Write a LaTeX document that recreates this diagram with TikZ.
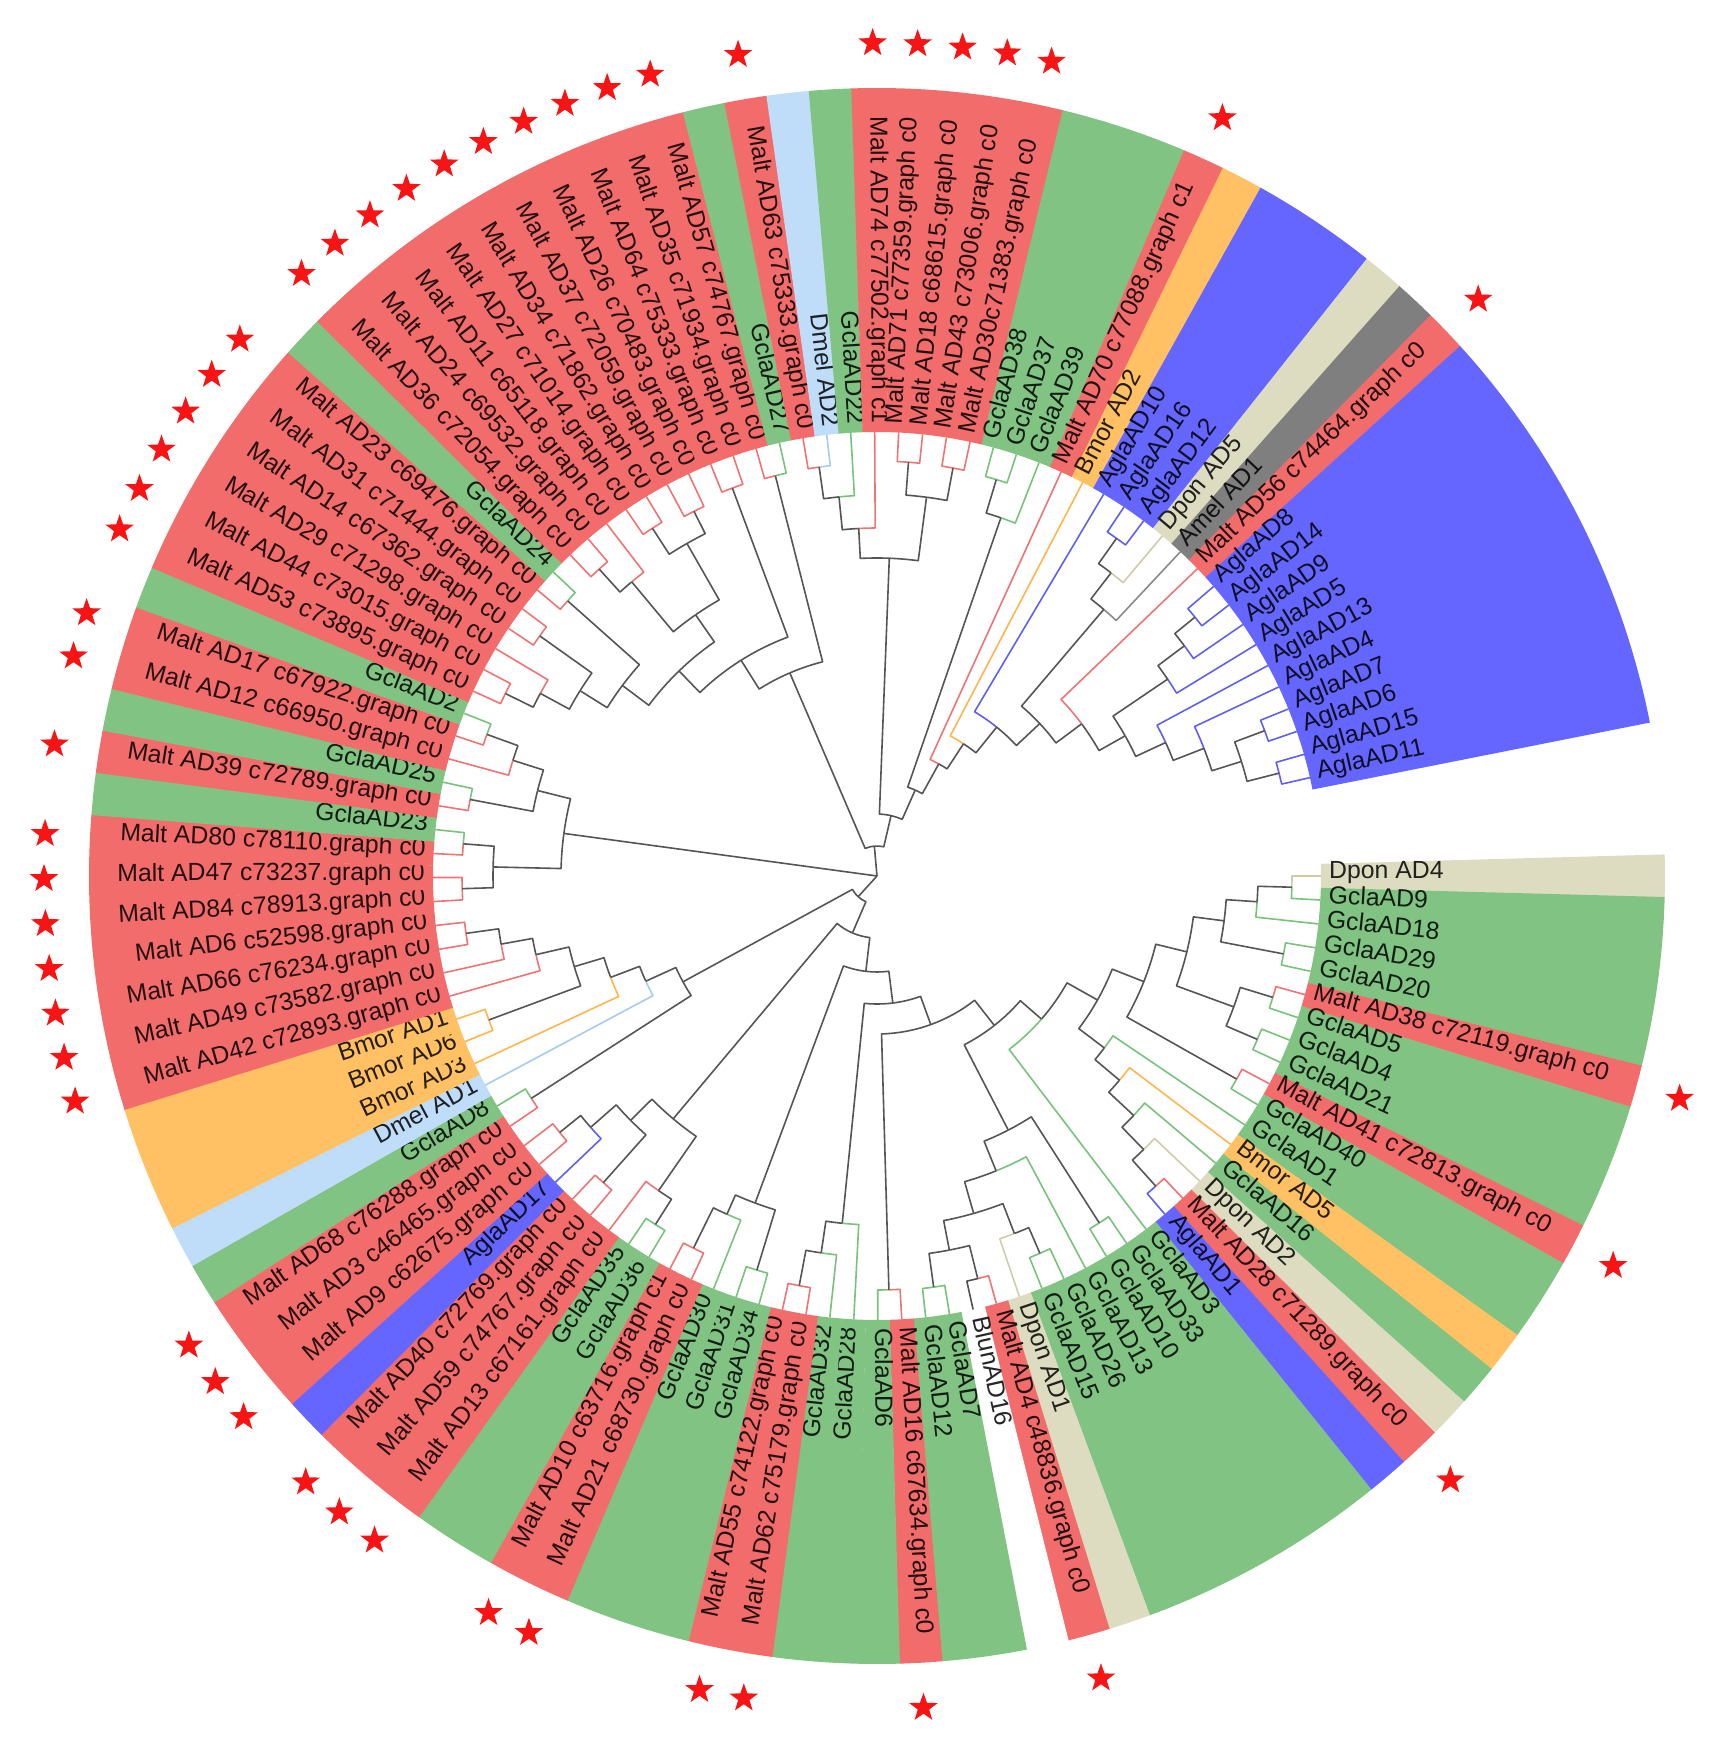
\documentclass[tikz,border=0pt]{standalone}
\usepackage{fontspec}
\setmainfont{Liberation Sans}
\usetikzlibrary{shapes.geometric}
\definecolor{gM}{HTML}{F36C6C}
\definecolor{gG}{HTML}{80C383}
\definecolor{gA}{HTML}{6565FF}
\definecolor{gB}{HTML}{FFC164}
\definecolor{gP}{HTML}{DDDCC0}
\definecolor{gD}{HTML}{BFDDF8}
\definecolor{gE}{HTML}{7F7F7F}
\definecolor{gL}{HTML}{FFFFFF}
\definecolor{lngM}{HTML}{EE7474}
\definecolor{lngG}{HTML}{78C27B}
\definecolor{lngA}{HTML}{5F5FF2}
\definecolor{lngB}{HTML}{FFB54D}
\definecolor{lngP}{HTML}{CFCCAA}
\definecolor{lngD}{HTML}{A6CBEE}
\definecolor{lngE}{HTML}{8A8A8A}
\definecolor{lngL}{HTML}{505050}
\definecolor{lnint}{HTML}{555555}
\definecolor{starred}{HTML}{F81414}
\tikzset{
  branch/.style={line width=1.6pt,line join=round},
  lbl/.style={inner sep=0pt,font=\fontsize{24.8}{30}\selectfont,text height=0.72em,text depth=0.2em},
  starmark/.style={star,star points=5,star point ratio=2.5,minimum size=30pt,inner sep=0pt,fill=starred,draw=none}
}
\def\dstep{3.1}
\def\Rt{444}
\def\Ro{788}
\def\Rs{833}
\def\gMname{gM}
\newif\iflfleft
\def\lflefffalse{\global\let\iflfleft\iffalse}
\def\lfleftttrue{\global\let\iflfleft\iftrue}
\newcommand\Lf[3]{%
  \pgfmathsetmacro\lfA{-(#1-1)*\dstep}%
  \pgfmathsetmacro\lfS{\lfA-1.57}%
  \pgfmathsetmacro\lfE{\lfA+1.57}%
  \pgfmathsetmacro\lfR{\Rt+8}%
  \expandafter\xdef\csname ta@l#1\endcsname{\lfA}%
  \expandafter\xdef\csname tr@l#1\endcsname{\Rt}%
  \expandafter\xdef\csname tc@l#1\endcsname{ln#2}%
  \coordinate (l#1) at (\lfA:\Rt pt);
  \fill[#2] (\lfS:\Rt pt) arc[start angle=\lfS,end angle=\lfE,radius=\Rt pt] -- (\lfE:\Ro pt) arc[start angle=\lfE,end angle=\lfS,radius=\Ro pt] -- cycle;
  \lflefffalse
  \ifdim\lfA pt<-90pt \ifdim\lfA pt>-270pt \lfleftttrue\fi\fi
  \iflfleft
    \node[lbl,text=#2!15!black,rotate=\lfA+180,anchor=east] (t#1) at (\lfA:\lfR pt) {#3};
  \else
    \node[lbl,text=#2!15!black,rotate=\lfA,anchor=west] (t#1) at (\lfA:\lfR pt) {#3};
  \fi
  \def\lfG{#2}%
  \ifx\lfG\gMname \node[starmark] (s#1) at (\lfA:\Rs pt) {}; \fi
}
\newcommand\Br[2]{%
  \edef\brPA{\csname ta@#1\endcsname}%
  \edef\brPR{\csname tr@#1\endcsname}%
  \edef\brCA{\csname ta@#2\endcsname}%
  \edef\brCC{\csname tc@#2\endcsname}%
  \draw[branch,draw=\brCC] (#1) arc[start angle=\brPA,end angle=\brCA,radius=\brPR pt] -- (#2);
}
\newcommand\Nd[4]{%
  \pgfmathsetmacro\ndA{(\csname ta@#3\endcsname+\csname ta@#4\endcsname)/2}%
  \expandafter\xdef\csname ta@#1\endcsname{\ndA}%
  \expandafter\xdef\csname tr@#1\endcsname{#2}%
  \expandafter\xdef\csname tc@#1\endcsname{lnint}%
  \coordinate (#1) at (\ndA:#2pt);
  \Br{#1}{#3}\Br{#1}{#4}%
}
\begin{document}
\begin{tikzpicture}
\useasboundingbox (-877pt,-874pt) rectangle (838pt,876pt);
\Lf{1}{gP}{Dpon AD4}
\Lf{2}{gG}{GclaAD9}
\Lf{3}{gG}{GclaAD18}
\Lf{4}{gG}{GclaAD29}
\Lf{5}{gG}{GclaAD20}
\Lf{6}{gM}{Malt AD38 c72119.graph c0}
\Lf{7}{gG}{GclaAD5}
\Lf{8}{gG}{GclaAD4}
\Lf{9}{gG}{GclaAD21}
\Lf{10}{gM}{Malt AD41 c72813.graph c0}
\Lf{11}{gG}{GclaAD40}
\Lf{12}{gG}{GclaAD1}
\Lf{13}{gB}{Bmor AD5}
\Lf{14}{gG}{GclaAD16}
\Lf{15}{gP}{Dpon AD2}
\Lf{16}{gM}{Malt AD28 c71289.graph c0}
\Lf{17}{gA}{AglaAD1}
\Lf{18}{gG}{GclaAD3}
\Lf{19}{gG}{GclaAD33}
\Lf{20}{gG}{GclaAD10}
\Lf{21}{gG}{GclaAD13}
\Lf{22}{gG}{GclaAD26}
\Lf{23}{gG}{GclaAD15}
\Lf{24}{gP}{Dpon AD1}
\Lf{25}{gM}{Malt AD4 c48836.graph c0}
\Lf{26}{gL}{BlunAD16}
\Lf{27}{gG}{GclaAD7}
\Lf{28}{gG}{GclaAD12}
\Lf{29}{gM}{Malt AD16 c67634.graph c0}
\Lf{30}{gG}{GclaAD6}
\Lf{31}{gG}{GclaAD28}
\Lf{32}{gG}{GclaAD32}
\Lf{33}{gM}{Malt AD62 c75179.graph c0}
\Lf{34}{gM}{Malt AD55 c74122.graph c0}
\Lf{35}{gG}{GclaAD34}
\Lf{36}{gG}{GclaAD31}
\Lf{37}{gG}{GclaAD30}
\Lf{38}{gM}{Malt AD21 c68730.graph c0}
\Lf{39}{gM}{Malt AD10 c63716.graph c1}
\Lf{40}{gG}{GclaAD36}
\Lf{41}{gG}{GclaAD35}
\Lf{42}{gM}{Malt AD13 c67161.graph c0}
\Lf{43}{gM}{Malt AD59 c74767.graph c0}
\Lf{44}{gM}{Malt AD40 c72769.graph c0}
\Lf{45}{gA}{AglaAD17}
\Lf{46}{gM}{Malt AD9 c62675.graph c0}
\Lf{47}{gM}{Malt AD3 c46465.graph c0}
\Lf{48}{gM}{Malt AD68 c76288.graph c0}
\Lf{49}{gG}{GclaAD8}
\Lf{50}{gD}{Dmel AD1}
\Lf{51}{gB}{Bmor AD3}
\Lf{52}{gB}{Bmor AD6}
\Lf{53}{gB}{Bmor AD1}
\Lf{54}{gM}{Malt AD42 c72893.graph c0}
\Lf{55}{gM}{Malt AD49 c73582.graph c0}
\Lf{56}{gM}{Malt AD66 c76234.graph c0}
\Lf{57}{gM}{Malt AD6 c52598.graph c0}
\Lf{58}{gM}{Malt AD84 c78913.graph c0}
\Lf{59}{gM}{Malt AD47 c73237.graph c0}
\Lf{60}{gM}{Malt AD80 c78110.graph c0}
\Lf{61}{gG}{GclaAD23}
\Lf{62}{gM}{Malt AD39 c72789.graph c0}
\Lf{63}{gG}{GclaAD25}
\Lf{64}{gM}{Malt AD12 c66950.graph c0}
\Lf{65}{gM}{Malt AD17 c67922.graph c0}
\Lf{66}{gG}{GclaAD2}
\Lf{67}{gM}{Malt AD53 c73895.graph c0}
\Lf{68}{gM}{Malt AD44 c73015.graph c0}
\Lf{69}{gM}{Malt AD29 c71298.graph c0}
\Lf{70}{gM}{Malt AD14 c67362.graph c0}
\Lf{71}{gM}{Malt AD31 c71444.graph c0}
\Lf{72}{gM}{Malt AD23 c69476.graph c0}
\Lf{73}{gG}{GclaAD24}
\Lf{74}{gM}{Malt AD36 c72054.graph c0}
\Lf{75}{gM}{Malt AD24 c69532.graph c0}
\Lf{76}{gM}{Malt AD11 c65118.graph c0}
\Lf{77}{gM}{Malt AD27 c71014.graph c0}
\Lf{78}{gM}{Malt AD34 c71862.graph c0}
\Lf{79}{gM}{Malt AD37 c72059.graph c0}
\Lf{80}{gM}{Malt AD26 c70483.graph c0}
\Lf{81}{gM}{Malt AD64 c75333.graph c0}
\Lf{82}{gM}{Malt AD35 c71934.graph c0}
\Lf{83}{gM}{Malt AD57 c74767.graph c0}
\Lf{84}{gG}{GclaAD27}
\Lf{85}{gM}{Malt AD63 c75333.graph c0}
\Lf{86}{gD}{Dmel AD2}
\Lf{87}{gG}{GclaAD22}
\Lf{88}{gM}{Malt AD74 c77502.graph c1}
\Lf{89}{gM}{Malt AD71 c77359.graph c0}
\Lf{90}{gM}{Malt AD18 c68615.graph c0}
\Lf{91}{gM}{Malt AD43 c73006.graph c0}
\Lf{92}{gM}{Malt AD30c71383.graph c0}
\Lf{93}{gG}{GclaAD38}
\Lf{94}{gG}{GclaAD37}
\Lf{95}{gG}{GclaAD39}
\Lf{96}{gM}{Malt AD70 c77088.graph c1}
\Lf{97}{gB}{Bmor AD2}
\Lf{98}{gA}{AglaAD10}
\Lf{99}{gA}{AglaAD16}
\Lf{100}{gA}{AglaAD12}
\Lf{101}{gP}{Dpon AD5}
\Lf{102}{gE}{Amel AD1}
\Lf{103}{gM}{Malt AD56 c74464.graph c0}
\Lf{104}{gA}{AglaAD8}
\Lf{105}{gA}{AglaAD14}
\Lf{106}{gA}{AglaAD9}
\Lf{107}{gA}{AglaAD5}
\Lf{108}{gA}{AglaAD13}
\Lf{109}{gA}{AglaAD4}
\Lf{110}{gA}{AglaAD7}
\Lf{111}{gA}{AglaAD6}
\Lf{112}{gA}{AglaAD15}
\Lf{113}{gA}{AglaAD11}
% ---- tree ----
\Nd{nc1}{415}{l1}{l2}
\Nd{nn1}{381}{nc1}{l3}
\Nd{nc2}{414}{l4}{l5}
\Nd{nn2}{350}{nn1}{nc2}
\Nd{nc3}{414}{l6}{l7}
\Nd{nc4}{414}{l8}{l9}
\Nd{nn3}{380}{nc3}{nc4}
\Nd{nR1}{319}{nn2}{nn3}
\Nd{nc5}{413}{l10}{l11}
\Nd{nR2}{287}{nR1}{nc5}
\Nd{nc6}{417}{l16}{l17}
\Nd{nn4}{382}{l15}{nc6}
\Nd{nn5}{351}{l14}{nn4}
\Nd{nn6}{317}{l13}{nn5}
\Nd{nRG}{285}{l12}{nn6}
\Nd{nR3}{253}{nR2}{nRG}
\Nd{nR4}{218}{nR3}{l18}
\Nd{nc7}{412}{l19}{l20}
\Nd{nc8}{411}{l22}{l23}
\Nd{nA2a}{383}{nc8}{l24}
\Nd{nc9}{415}{l25}{l26}
\Nd{nc10}{415}{l27}{l28}
\Nd{nA2b}{381}{nc9}{nc10}
\Nd{nA2}{351}{nA2a}{nA2b}
\Nd{nn7}{318}{l21}{nA2}
\Nd{nF4}{286}{nc7}{nn7}
\Nd{nF2}{190}{nR4}{nF4}
\Nd{nc11}{414}{l29}{l30}
\Nd{nF}{158}{nc11}{nF2}
\Nd{nc12}{417}{l33}{l34}
\Nd{nn8}{381}{nc12}{l32}
\Nd{nE1}{349}{nn8}{l31}
\Nd{nE}{128}{nE1}{nF}
\Nd{nc13}{412}{l35}{l36}
\Nd{nc14}{415}{l38}{l39}
\Nd{nD1a}{370}{l37}{nc14}
\Nd{nD1}{349}{nc13}{nD1a}
\Nd{nD}{96}{nD1}{nE}
\Nd{nc15}{413}{l40}{l41}
\Nd{nC1b}{383}{nc15}{l42}
\Nd{nc16}{411}{l43}{l44}
\Nd{nc17}{408}{l46}{l47}
\Nd{nn9}{381}{l45}{nc17}
\Nd{nC1a}{347}{nc16}{nn9}
\Nd{nC1}{317}{nC1a}{nC1b}
\Nd{nC}{62}{nC1}{nD}
\Nd{nc18}{411}{l48}{l49}
\Nd{nc19}{414}{l52}{l53}
\Nd{nc20}{415}{l56}{l57}
\Nd{nn10}{382}{nc20}{l55}
\Nd{nn11}{350}{nn10}{l54}
\Nd{nn12}{316}{nn11}{nc19}
\Nd{nn13}{285}{nn12}{l51}
\Nd{nn14}{254}{nn13}{l50}
\Nd{nB1p}{221}{nn14}{nc18}
\Nd{nB}{28}{nB1p}{nC}
\Nd{nc21}{415}{l58}{l59}
\Nd{nc22}{415}{l60}{l61}
\Nd{nLa}{384}{nc22}{nc21}
\Nd{nc23}{414}{l62}{l63}
\Nd{nc24}{415}{l65}{l66}
\Nd{nLb2}{382}{nc24}{l64}
\Nd{nLb}{350}{nLb2}{nc23}
\Nd{nL}{316}{nLb}{nLa}
\Nd{nc25}{414}{l67}{l68}
\Nd{nna}{383}{nc25}{l69}
\Nd{nc26}{414}{l70}{l71}
\Nd{nYb1}{350}{nna}{nc26}
\Nd{nc27}{414}{l72}{l73}
\Nd{nYb}{318}{nYb1}{nc27}
\Nd{nc28}{414}{l74}{l75}
\Nd{nnb}{383}{nc28}{l76}
\Nd{nc29}{414}{l77}{l78}
\Nd{nc30}{408}{l79}{l80}
\Nd{nnc}{383}{nc29}{nc30}
\Nd{nYa}{318}{nnb}{nnc}
\Nd{nY}{285}{nYa}{nYb}
\Nd{nc31}{414}{l81}{l82}
\Nd{nB1a}{255}{nc31}{nY}
\Nd{nc32}{413}{l83}{l84}
\Nd{nB1}{221}{nB1a}{nc32}
\Nd{nc33}{413}{l85}{l86}
\Nd{nn15}{381}{nc33}{l87}
\Nd{nL1}{348}{nn15}{l88}
\Nd{nc34}{415}{l89}{l90}
\Nd{nc35}{415}{l91}{l92}
\Nd{nn16}{382}{nc34}{nc35}
\Nd{nTop}{318}{nL1}{nn16}
\Nd{nc36}{414}{l93}{l94}
\Nd{nGC}{379}{nc36}{l95}
\Nd{nN1}{414}{l99}{l100}
\Nd{nN2}{383}{nN1}{l101}
\Nd{nN3}{350}{nN2}{l102}
\Nd{nG1c}{410}{l104}{l105}
\Nd{nG1b}{384}{nG1c}{l106}
\Nd{nG1}{351}{nG1b}{l107}
\Nd{nG5}{414}{l110}{l111}
\Nd{nG6}{415}{l112}{l113}
\Nd{nG4}{382}{nG5}{nG6}
\Nd{nG3}{351}{l109}{nG4}
\Nd{nG2}{318}{l108}{nG3}
\Nd{nG0}{285}{nG1}{nG2}
\Nd{nP}{255}{l103}{nG0}
\Nd{nYn}{223}{nP}{nN3}
\Nd{nX}{191}{l98}{nYn}
\Nd{nW}{158}{l97}{nX}
\Nd{nV}{128}{l96}{nW}
\Nd{nU}{94}{nGC}{nV}
\Nd{nT}{62}{nTop}{nU}
\Nd{nA}{30}{nB1}{nT}
\coordinate (root) at (0pt,0pt);
\draw[branch,draw=lnint] (root) -- (nA);
\draw[branch,draw=lnint] (root) -- (nL);
\draw[branch,draw=lnint] (root) -- (nB);
\end{tikzpicture}
\end{document}
